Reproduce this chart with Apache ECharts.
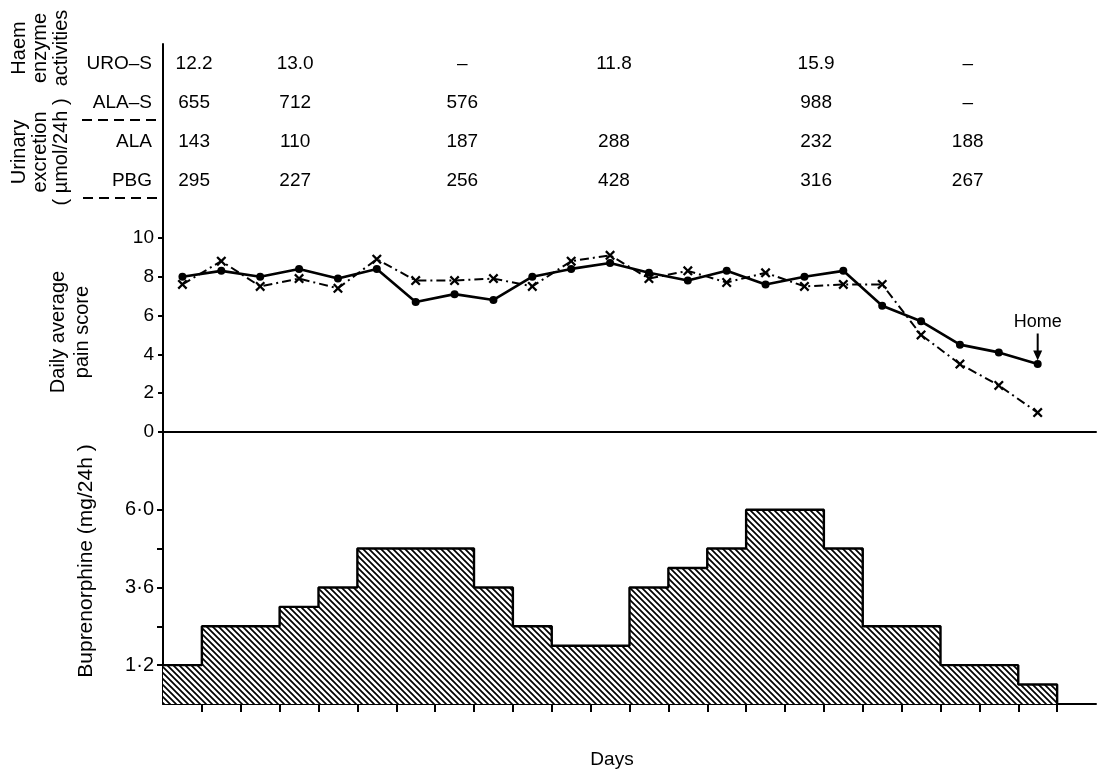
<!DOCTYPE html>
<html><head><meta charset="utf-8">
<script src="https://cdn.jsdelivr.net/npm/echarts@6/dist/echarts.min.js"></script>
<style>html,body{margin:0;padding:0;background:#fff}#c{width:1103px;height:775px}</style>
</head><body><div id="c"></div>
<script>
// ---- data ----
const painCircles = [8.0,8.3,8.0,8.4,7.9,8.4,6.7,7.1,6.8,8.0,8.4,8.7,8.2,7.8,8.3,7.6,8.0,8.3,6.5,5.7,4.5,4.1,3.5];
const painCrosses = [7.6,8.8,7.5,7.9,7.4,8.9,7.8,7.8,7.9,7.5,8.8,9.1,7.9,8.3,7.7,8.2,7.5,7.6,7.6,5.0,3.5,2.4,1.0];
const bupDose = [1.2,2.4,2.4,3.0,3.6,4.8,4.8,4.8,3.6,2.4,1.8,1.8,3.6,4.2,4.8,6.0,6.0,4.8,2.4,2.4,1.2,1.2,0.6];
const tableRows = ['URO–S','ALA–S','ALA','PBG'];
const uroS = ['12.2','13.0','–','11.8','15.9','–'];
const alaS = ['655','712','576','','988','–'];
const alaU = ['143','110','187','288','232','188'];
const pbgU = ['295','227','256','428','316','267'];
const sampleDays = [0.8, 3.4, 7.7, 11.6, 16.8, 20.7];
const painTicks = [0,2,4,6,8,10];
const bupTicks = [1.2,2.4,3.6,4.8,6.0];
const bupLabels = [1.2,3.6,6.0];
const dayTicks = Array.from({length: 23}, (_, i) => i + 1);

const FONT = '"Liberation Sans", Arial, Helvetica, sans-serif';
const BLACK = '#000';

function hatch() {
  const c = document.createElement('canvas');
  c.width = 6; c.height = 6;
  const g = c.getContext('2d');
  g.fillStyle = '#fff'; g.fillRect(0, 0, 6, 6);
  g.strokeStyle = '#000'; g.lineWidth = 1.7;
  g.beginPath();
  g.moveTo(-1, -1); g.lineTo(7, 7);
  g.moveTo(5, -1); g.lineTo(7, 1);
  g.moveTo(-1, 5); g.lineTo(1, 7);
  g.stroke();
  return c;
}

const tableData = [];
[uroS, alaS, alaU, pbgU].forEach((row, r) => {
  row.forEach((t, c) => { if (t !== '') tableData.push({value: [sampleDays[c], tableRows[r]], text: t}); });
});

const bupData = bupDose.map((v, i) => [i, v]);
bupData.push([bupDose.length, bupDose[bupDose.length - 1]]);
bupData.push([bupDose.length, 0]);

const crossPath = 'path://M0,1.6 L1.6,0 L5,3.4 L8.4,0 L10,1.6 L6.6,5 L10,8.4 L8.4,10 L5,6.6 L1.6,10 L0,8.4 L3.4,5 Z';
const arrowPath = 'path://M3.5,0 L5.5,0 L5.5,17 L9,17 L4.5,27 L0,17 L3.5,17 Z';

const chart = echarts.init(document.getElementById('c'), null, {renderer: 'canvas'});
const xBase = {type: 'value', min: 0, max: 24, splitLine: {show: false}, axisLabel: {show: false}};
const axLine = {show: true, lineStyle: {color: BLACK, width: 2}};
const lbl = {color: BLACK, fontSize: 19, fontFamily: FONT};

chart.setOption({
  animation: false,
  backgroundColor: '#fff',
  textStyle: {fontFamily: FONT, color: BLACK},
  grid: [
    {left: 163, right: 7, top: 44, height: 156},
    {left: 163, right: 7, top: 199, height: 233},
    {left: 163, right: 7, top: 432, height: 272}
  ],
  xAxis: [
    Object.assign({}, xBase, {gridIndex: 0, show: false}),
    Object.assign({}, xBase, {gridIndex: 1, axisLine: axLine, axisTick: {show: false}}),
    Object.assign({}, xBase, {gridIndex: 2, axisLine: axLine,
      axisTick: {show: true, customValues: dayTicks, length: 8, inside: false, lineStyle: {color: BLACK, width: 2}}})
  ],
  yAxis: [
    {type: 'category', gridIndex: 0, data: tableRows, inverse: true, axisLine: axLine,
     axisTick: {show: false}, splitLine: {show: false}, axisLabel: Object.assign({margin: 11}, lbl)},
    {type: 'value', gridIndex: 1, min: 0, max: 12, interval: 2, axisLine: axLine, splitLine: {show: false},
     axisTick: {show: true, customValues: painTicks, length: 5, lineStyle: {color: BLACK, width: 2}},
     axisLabel: Object.assign({customValues: painTicks, margin: 9}, lbl)},
    {type: 'value', gridIndex: 2, min: 0, max: 8.4, interval: 1.2, axisLine: axLine, splitLine: {show: false},
     axisTick: {show: true, customValues: bupTicks, length: 6, lineStyle: {color: BLACK, width: 2}},
     axisLabel: Object.assign({customValues: bupLabels, margin: 9,
       formatter: v => Number(v).toFixed(1).replace('.', '·')}, lbl, {fontSize: 20})}
  ],
  series: [
    {type: 'scatter', xAxisIndex: 0, yAxisIndex: 0, symbolSize: 1, silent: true, data: tableData,
     itemStyle: {opacity: 0},
     label: Object.assign({show: true, position: 'inside', opacity: 1, textBorderWidth: 0,
       formatter: p => p.data.text}, lbl)},
    {type: 'line', name: 'circles', xAxisIndex: 1, yAxisIndex: 1,
     data: painCircles.map((v, i) => [i + 0.5, v]),
     symbol: 'circle', symbolSize: 8, itemStyle: {color: BLACK},
     lineStyle: {color: BLACK, width: 2.6}, z: 3,
     markPoint: {symbol: arrowPath, symbolSize: [9, 27], symbolOffset: [0, -17], silent: true,
       itemStyle: {color: BLACK},
       label: Object.assign({show: true, position: 'top', distance: 3, formatter: 'Home'}, lbl, {fontSize: 18}),
       data: [{coord: [painCircles.length - 0.5, painCircles[painCircles.length - 1]]}]}},
    {type: 'line', name: 'crosses', xAxisIndex: 1, yAxisIndex: 1,
     data: painCrosses.map((v, i) => [i + 0.5, v]),
     symbol: crossPath, symbolSize: 10, itemStyle: {color: BLACK},
     lineStyle: {color: BLACK, width: 2, type: [9, 4, 2, 4]}, z: 2},
    {type: 'line', name: 'buprenorphine', xAxisIndex: 2, yAxisIndex: 2, data: bupData, step: 'end',
     symbol: 'none', lineStyle: {color: BLACK, width: 2.4},
     areaStyle: {color: {image: hatch(), repeat: 'repeat'}, opacity: 1}, z: 2}
  ],
  graphic: [
    {type: 'text', x: 40, y: 48, rotation: Math.PI / 2,
     style: {text: 'Haem\nenzyme\nactivities', fill: BLACK, fontSize: 20, fontFamily: FONT, align: 'center', verticalAlign: 'middle', lineHeight: 21}},
    {type: 'text', x: 40, y: 152, rotation: Math.PI / 2,
     style: {text: 'Urinary\nexcretion\n( µmol/24h )', fill: BLACK, fontSize: 20, fontFamily: FONT, align: 'center', verticalAlign: 'middle', lineHeight: 21}},
    {type: 'text', x: 70, y: 332, rotation: Math.PI / 2,
     style: {text: 'Daily average\npain score', fill: BLACK, fontSize: 20, fontFamily: FONT, align: 'center', verticalAlign: 'middle', lineHeight: 24}},
    {type: 'text', x: 86, y: 561, rotation: Math.PI / 2,
     style: {text: 'Buprenorphine (mg/24h )', fill: BLACK, fontSize: 21, fontFamily: FONT, align: 'center', verticalAlign: 'middle'}},
    {type: 'text', x: 612, y: 760,
     style: {text: 'Days', fill: BLACK, fontSize: 19, fontFamily: FONT, align: 'center', verticalAlign: 'middle'}},
    {type: 'line', shape: {x1: 82, y1: 120, x2: 162, y2: 120}, style: {stroke: BLACK, lineWidth: 2, lineDash: [10, 6]}},
    {type: 'line', shape: {x1: 83, y1: 198, x2: 162, y2: 198}, style: {stroke: BLACK, lineWidth: 2, lineDash: [10, 6]}}
  ]
});
</script>
</body></html>
